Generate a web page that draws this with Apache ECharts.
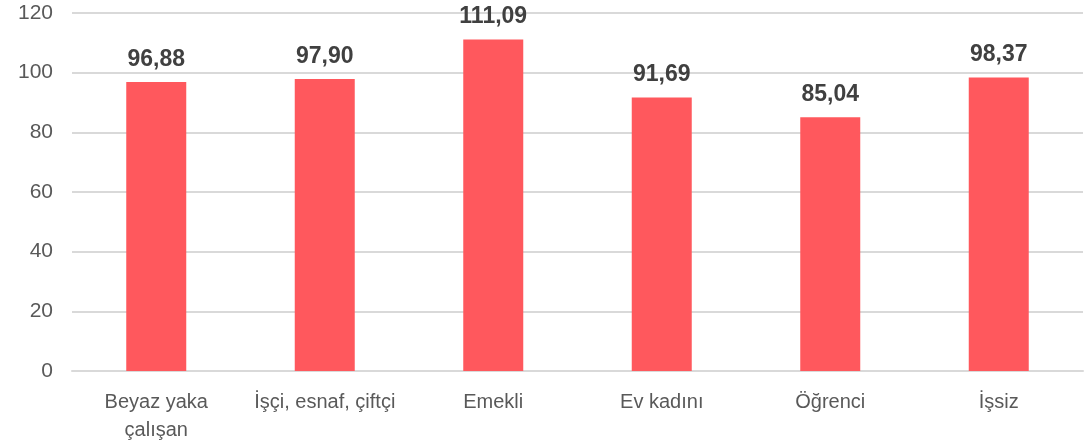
<!DOCTYPE html>
<html>
<head>
<meta charset="utf-8">
<script src="https://cdn.jsdelivr.net/npm/echarts@6/dist/echarts.min.js"></script>
<style>
  html, body { margin: 0; padding: 0; background: #fff; }
  #chart { width: 1087px; height: 445px; }
</style>
</head>
<body>
<div id="chart"></div>
<script>
// kategoriler ve değerler
const categories = ['Beyaz yaka\nçalışan', 'İşçi, esnaf, çiftçi', 'Emekli', 'Ev kadını', 'Öğrenci', 'İşsiz'];
const values = [96.88, 97.90, 111.09, 91.69, 85.04, 98.37];
const yTicks = [0, 20, 40, 60, 80, 100, 120];

const chart = echarts.init(document.getElementById('chart'));
const fontFamily = '"Liberation Sans", Arial, sans-serif';

chart.setOption({
    animation: false,
    grid: { left: 72, right: 4, top: 13, bottom: 74 },
    xAxis: {
        type: 'category',
        data: categories,
        axisLine: { lineStyle: { color: '#d9d9d9', width: 2 } },
        axisTick: { show: false },
        axisLabel: {
            color: '#595959',
            fontSize: 20,
            fontFamily: fontFamily,
            margin: 17,
            lineHeight: 28,
            interval: 0
        }
    },
    yAxis: {
        type: 'value',
        min: yTicks[0],
        max: yTicks[yTicks.length - 1],
        interval: 20,
        axisLine: { show: false },
        axisTick: { show: false },
        splitLine: { lineStyle: { color: '#d9d9d9', width: 2 } },
        axisLabel: {
            color: '#595959',
            fontSize: 21,
            fontFamily: fontFamily,
            margin: 19
        }
    },
    series: [{
        type: 'bar',
        data: values,
        barWidth: 60,
        itemStyle: { color: '#ff585d' },
        label: {
            show: true,
            position: 'top',
            distance: 11,
            color: '#404040',
            fontSize: 23,
            fontWeight: 'bold',
            fontFamily: fontFamily,
            formatter: p => p.value.toFixed(2).replace('.', ',')
        }
    }]
});
</script>
</body>
</html>
